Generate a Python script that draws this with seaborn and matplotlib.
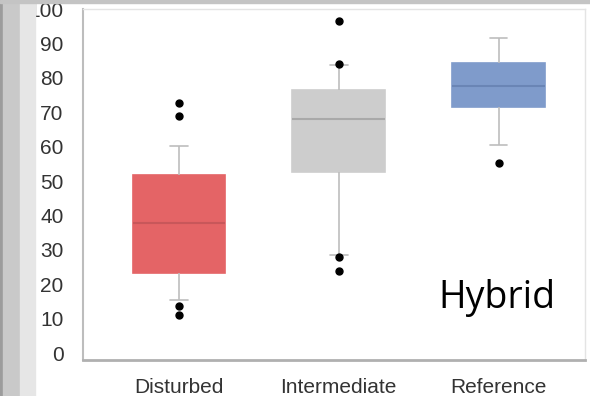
import numpy as np
import pandas as pd
import matplotlib.pyplot as plt
import seaborn as sns
from matplotlib.patches import Rectangle

categories = ["Disturbed", "Intermediate", "Reference"]
disturbed = [11.0, 13.7, 15.4, 23.3, 28.0, 33.5, 37.8, 42.5, 47.5, 51.7, 60.2, 68.9, 72.7]
intermediate = [23.8, 27.9, 28.5, 52.6, 58.5, 63.5, 68.0, 71.0, 74.0, 76.5, 83.7, 83.9, 96.5]
reference = [55.2, 60.5, 60.5, 71.5, 73.5, 75.5, 77.6, 79.5, 82.0, 84.3, 91.6, 91.6, 91.6]
y_ticks = [0, 10, 20, 30, 40, 50, 60, 70, 80, 90, 100]
annotation = "Hybrid"

box_colors = ["#e46466", "#cdcdcd", "#7f9bcb"]
median_colors = ["#c8575a", "#a9a9a9", "#6a85b5"]

df = pd.DataFrame({
    "site": np.repeat(categories, [len(disturbed), len(intermediate), len(reference)]),
    "value": disturbed + intermediate + reference,
})

sns.set_style("white")
plt.rcParams["font.family"] = ["Liberation Sans", "DejaVu Sans"]

fig = plt.figure(figsize=(5.9, 3.96), dpi=100)

# screenshot edge bands on the left
for x0, w, c in [(0, 3, "#9c9c9c"), (3, 17, "#c9c9c9"), (20, 15, "#e6e6e6")]:
    fig.patches.append(Rectangle((x0 / 590, 0), w / 590, 1, transform=fig.transFigure,
                                 color=c, zorder=0))
fig.patches.append(Rectangle((0, 393 / 396), 1, 3 / 396, transform=fig.transFigure,
                             color="#c4c4c4", zorder=0))

ax = fig.add_axes([83 / 590, 36 / 396, 502 / 590, 351 / 396])
sns.boxplot(data=df, x="site", y="value", hue="site", order=categories,
            palette=box_colors, legend=False, width=0.58, whis=(16, 84),
            linecolor="#bdbdbd", linewidth=1.2, capwidths=0.11,
            flierprops=dict(marker="o", markerfacecolor="black", markeredgecolor="black",
                            markersize=5), ax=ax)

for cont, fc, mc in zip(ax.containers, box_colors, median_colors):
    for b in cont.boxes:
        b.set_edgecolor(fc)
        b.set_facecolor(fc)
    for m in cont.medians:
        m.set_color(mc)
        m.set_linewidth(1.5)

ax.set_xlim(-0.6, 2.54)
ax.set_ylim(-2, 100)
ax.set_yticks(y_ticks)
ax.set_xlabel("")
ax.set_ylabel("")
ax.tick_params(axis="both", labelsize=15, colors="#333333", length=4, width=1,
               direction="out")
ax.tick_params(axis="y", pad=10, color="#aaaaaa")
ax.tick_params(axis="x", pad=9, color="#aaaaaa")

for side in ["top", "right"]:
    ax.spines[side].set_color("#e4e4e4")
    ax.spines[side].set_linewidth(1)
ax.spines["left"].set_color("#bdbdbd")
ax.spines["left"].set_linewidth(1.5)
ax.spines["bottom"].set_color("#b0b0b0")
ax.spines["bottom"].set_linewidth(2)

ax.text(1.99, 16, annotation, ha="center", va="center", fontsize=27,
        family=["Open Sans", "DejaVu Sans"], color="black")

fig.savefig("out.png", dpi=100)
plt.close(fig)
